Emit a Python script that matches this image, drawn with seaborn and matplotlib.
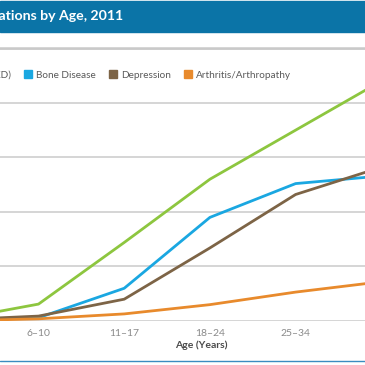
import matplotlib.pyplot as plt
import seaborn as sns
import pandas as pd
from matplotlib.lines import Line2D

ages = ["0–5", "6–10", "11–17", "18–24", "25–34", "35–44"]
ckd = [0.1, 1.55, 7.2, 13.0, 17.5, 22.0]
bone = [0.05, 0.3, 3.0, 9.5, 12.6, 13.3]
depression = [0.1, 0.45, 2.0, 6.7, 11.6, 14.1]
arthritis = [0.0, 0.2, 0.65, 1.5, 2.65, 3.6]

series = {
    "Chronic Kidney Disease (CKD)": ckd,
    "Bone Disease": bone,
    "Depression": depression,
    "Arthritis/Arthropathy": arthritis,
}
palette = {
    "Chronic Kidney Disease (CKD)": "#8dc63f",
    "Bone Disease": "#1aa7e1",
    "Depression": "#7d6446",
    "Arthritis/Arthropathy": "#e88a2c",
}

df = pd.DataFrame(
    [(i, name, v) for name, vals in series.items() for i, v in enumerate(vals)],
    columns=["pos", "condition", "value"],
)

sns.set_style("white")
plt.rcParams['font.family'] = ['Lato', 'DejaVu Sans']

W = H = 365
fig = plt.figure(figsize=(3.65, 3.65), dpi=100)

# axes is wider than the visible crop
step = 85.7
x0 = 38.5 - step  # pixel of first category
ax = fig.add_axes([x0 / W, 44 / H, 5 * step / W, 277 / H])

sns.lineplot(data=df, x="pos", y="value", hue="condition", palette=palette,
             linewidth=2.0, ax=ax, legend=False)

ax.set_xlim(0, 5)
ax.set_ylim(0, 25.4)
ax.set_yticks([0, 5, 10, 15, 20, 25])
ax.set_yticklabels([])
ax.set_xticks(range(len(ages)))
ax.set_xticklabels(ages, color="#8a8a8a", fontsize=7.5)
ax.tick_params(length=0, pad=6)
ax.grid(axis="y", color="#d2d2d2", linewidth=1.3)
ax.set_axisbelow(True)
for s in ax.spines.values():
    s.set_visible(False)
ax.set_ylabel("")
ax.set_xlabel("Age (Years)", fontsize=7.5, fontweight="bold", color="#4a4a4a")
ax.xaxis.set_label_coords((201 - x0) / (5 * step), -0.07)

# title bar
fig.patches.append(plt.Rectangle((0, (H - 32) / H), 1, 30.5 / H, transform=fig.transFigure,
                                 color="#0b74a7", zorder=0))
fig.text(123 / W, (H - 16) / H, "Prevalence of Complications by Age, 2011",
         ha="right", va="center", color="white", fontsize=10.2, fontweight="bold")

# separator under the title and bottom rule
fig.add_artist(Line2D([0, 1], [(H - 48.5) / H] * 2, transform=fig.transFigure,
                      color="#c8c8c8", linewidth=1.3))
fig.add_artist(Line2D([0, 1], [(H - 361) / H] * 2, transform=fig.transFigure,
                      color="#3a8cc0", linewidth=1.0))

handles = [Line2D([], [], marker="s", linestyle="none", markersize=5.5,
                  color=c) for c in palette.values()]
leg = fig.legend(handles, list(palette.keys()), loc="center right",
                 bbox_to_anchor=(296 / W, (H - 75) / H), ncol=4, frameon=False,
                 fontsize=7.2, handlelength=0.8, handletextpad=0.45,
                 columnspacing=1.25, borderpad=0)
for t in leg.get_texts():
    t.set_color("#5a5a5a")

plt.savefig("out.png", dpi=100)
plt.close()
